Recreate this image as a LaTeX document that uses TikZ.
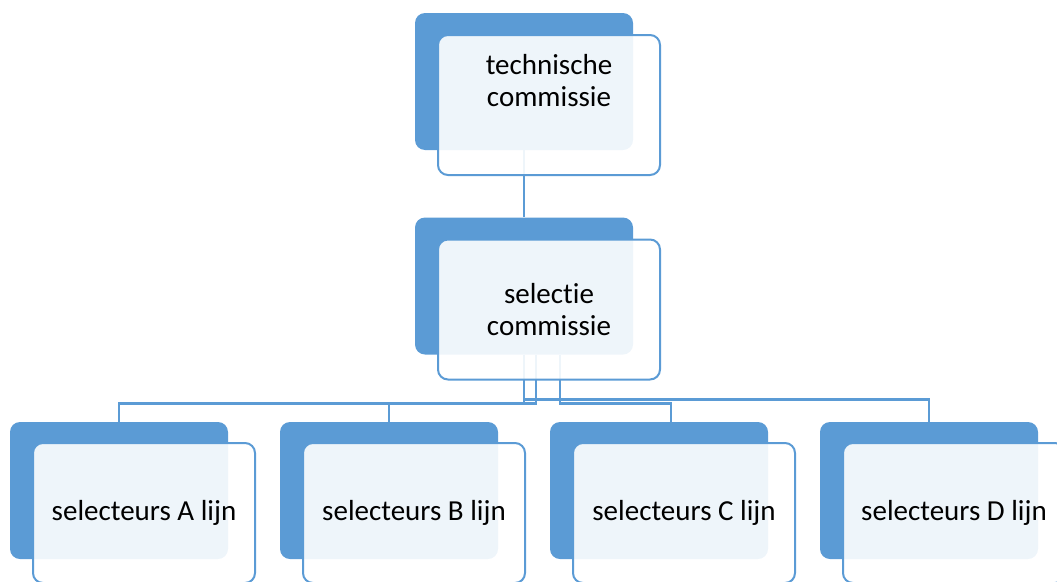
\documentclass[tikz,border=0pt]{standalone}
\usepackage{fontspec}
\setmainfont{Carlito}[Ligatures=NoCommon]
\definecolor{orgblue}{RGB}{91,155,213}
\tikzset{
  backbox/.style={fill=orgblue,rounded corners=10pt,minimum width=218pt,minimum height=137pt,inner sep=0pt},
  frontbox/.style={draw=orgblue,line width=2pt,fill=white,fill opacity=0.9,text opacity=1,rounded corners=10pt,minimum width=222pt,minimum height=140pt,inner sep=0pt,align=center,font=\fontsize{29}{32}\selectfont},
  boxtext/.style={align=center,inner sep=0pt,font=\fontsize{29}{32}\selectfont},
  link/.style={draw=orgblue,line width=2.5pt}
}
\begin{document}
\begin{tikzpicture}[x=1pt,y=-1pt]
\useasboundingbox (0,0) rectangle (1057,581);
% blue boxes behind
\node[backbox] (bgtc) at (524,81.5) {};
\node[backbox] (bgsc) at (524,286) {};
\foreach \n/\x in {linea/119,lineb/389,linec/659,lined/929}{\node[backbox] (bg\n) at (\x,490.5) {};}
% connectors
\draw[link] (bgtc.south) -- (bgsc.north);
\draw[link] (bgsc.south) -- ++(0,49) -| (bglinea.north);
\draw[link] ([xshift=12pt]bgsc.south) -- ++(0,49) -| (bglineb.north);
\draw[link] ([xshift=36pt]bgsc.south) -- ++(0,49) -| ([xshift=12pt]bglinec.north);
\draw[link] (bgsc.south) -- ++(0,45) -| (bglined.north);
% front boxes with text
\node[frontbox] (tc) at (549,105) {};
\node[boxtext] (tctext) at (549,81) {technische\\commissie};
\node[frontbox] (sc) at (549,309.5) {selectie\\commissie};
\foreach \n/\x/\t in {linea/144/A,lineb/414/B,linec/684/C,lined/954/D}{\node[frontbox] (\n) at (\x,513) {selecteurs \t\ lijn};}
\end{tikzpicture}
\end{document}
